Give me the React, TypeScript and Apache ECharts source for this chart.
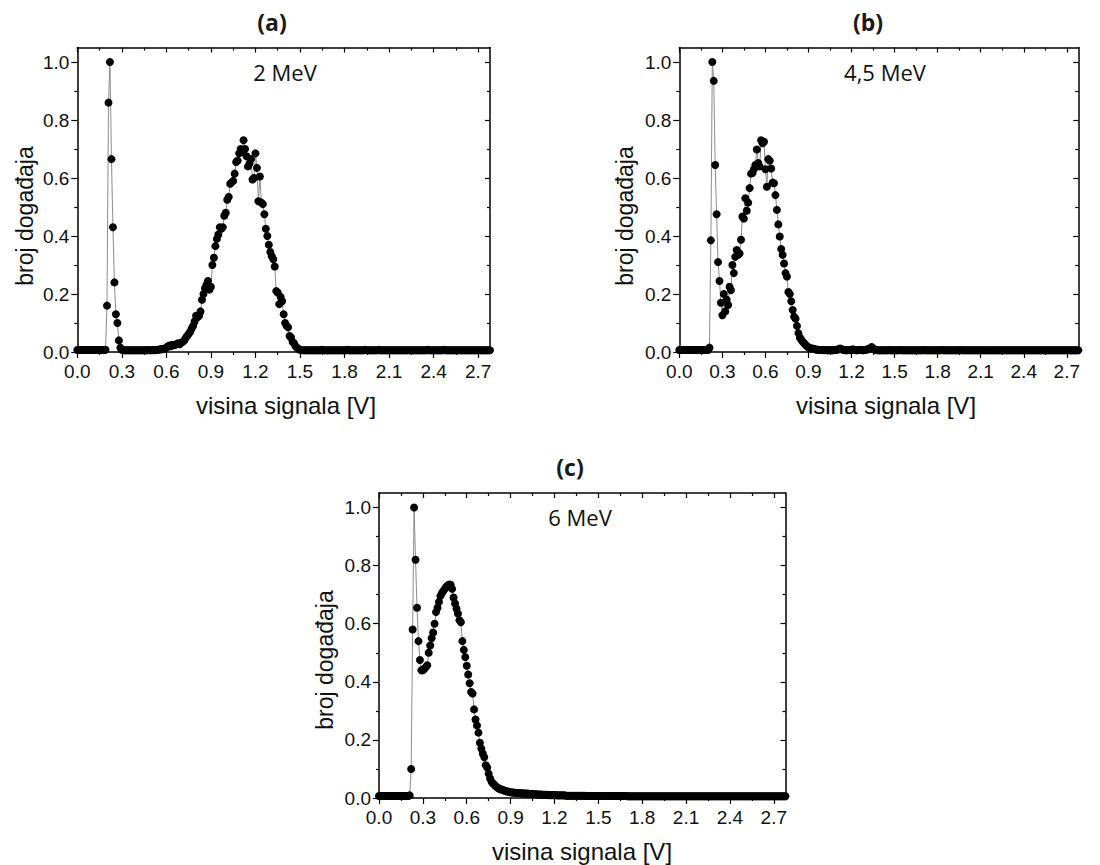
import React, { useEffect, useRef } from "react";
import * as echarts from "echarts";

// ---------- data ----------
const X_STEP = 0.01; // bin width [V]; bin i sits at i * X_STEP
const X_MAX = 2.78;
const Y_MAX = 1.05;
const X_TICKS = [0, 0.3, 0.6, 0.9, 1.2, 1.5, 1.8, 2.1, 2.4, 2.7];
const X_MINOR = [0.15, 0.45, 0.75, 1.05, 1.35, 1.65, 1.95, 2.25, 2.55];
const Y_TICKS = [0, 0.2, 0.4, 0.6, 0.8, 1.0];
const Y_MINOR = [0.1, 0.3, 0.5, 0.7, 0.9];

const PANEL_TITLES = ["(a)", "(b)", "(c)"];
const ENERGY_LABELS = ["2 MeV", "4,5 MeV", "6 MeV"];
const X_TITLE = "visina signala [V]";
const Y_TITLE = "broj događaja";

// normalised counts, 2 MeV
const SIGNAL_A = [
  0.007, 0.007, 0.007, 0.007, 0.007, 0.007, 0.007, 0.007, 0.007, 0.007,
  0.007, 0.007, 0.007, 0.007, 0.007, 0.007, 0.007, 0.007, 0.007, 0.008,
  0.16, 0.86, 1.0, 0.665, 0.43, 0.24, 0.13, 0.10, 0.04, 0.015,
  0.008, 0.006, 0.006, 0.006, 0.006, 0.006, 0.006, 0.006, 0.006, 0.006,
  0.006, 0.006, 0.006, 0.006, 0.006, 0.006, 0.006, 0.006, 0.007, 0.006,
  0.006, 0.007, 0.006, 0.007, 0.008, 0.008, 0.01, 0.009, 0.011, 0.012,
  0.015, 0.02, 0.022, 0.02, 0.025, 0.023, 0.025, 0.028, 0.03, 0.027,
  0.032, 0.035, 0.04, 0.048, 0.055, 0.062, 0.07, 0.08, 0.09, 0.105,
  0.125, 0.12, 0.125, 0.14, 0.18, 0.2, 0.22, 0.232, 0.245, 0.215,
  0.225, 0.3, 0.325, 0.365, 0.39, 0.405, 0.43, 0.425, 0.43, 0.47,
  0.48, 0.525, 0.535, 0.58, 0.585, 0.59, 0.615, 0.655, 0.66, 0.685,
  0.70, 0.69, 0.73, 0.70, 0.675, 0.64, 0.65, 0.665, 0.595, 0.60,
  0.685, 0.635, 0.52, 0.605, 0.515, 0.51, 0.475, 0.425, 0.40, 0.37,
  0.345, 0.33, 0.32, 0.295, 0.21, 0.205, 0.165, 0.19, 0.175, 0.13,
  0.10, 0.09, 0.085, 0.055, 0.05, 0.035, 0.03, 0.02, 0.015, 0.01,
  0.008, 0.007, 0.006, 0.006, 0.006, 0.006, 0.006, 0.006, 0.006, 0.006,
  0.006, 0.006, 0.006, 0.006, 0.006, 0.008, 0.006, 0.006, 0.006, 0.006,
  0.006, 0.006, 0.006, 0.006, 0.006, 0.006, 0.006, 0.006, 0.006, 0.006,
  0.006, 0.006, 0.008, 0.006, 0.006, 0.006, 0.006, 0.006, 0.006, 0.006,
  0.006, 0.006, 0.006, 0.006, 0.008, 0.006, 0.006, 0.006, 0.006, 0.006,
  0.006, 0.006, 0.006, 0.008, 0.006, 0.006, 0.006, 0.006, 0.006, 0.006,
  0.006, 0.006, 0.006, 0.006, 0.006, 0.006, 0.006, 0.006, 0.006, 0.006,
  0.006, 0.006, 0.006, 0.006, 0.006, 0.006, 0.006, 0.006, 0.006, 0.006,
  0.006, 0.006, 0.006, 0.006, 0.006, 0.006, 0.008, 0.006, 0.006, 0.006,
  0.006, 0.006, 0.006, 0.006, 0.006, 0.006, 0.006, 0.008, 0.006, 0.006,
  0.006, 0.006, 0.006, 0.006, 0.006, 0.006, 0.006, 0.006, 0.006, 0.006,
  0.006, 0.006, 0.006, 0.006, 0.006, 0.006, 0.006, 0.006, 0.006, 0.006,
  0.006, 0.006, 0.006, 0.006, 0.006, 0.006, 0.006, 0.006, 0.006, 0.006,
];

// normalised counts, 4,5 MeV
const SIGNAL_B = [
  0.007, 0.007, 0.007, 0.007, 0.007, 0.007, 0.007, 0.007, 0.007, 0.007,
  0.007, 0.007, 0.007, 0.007, 0.007, 0.007, 0.007, 0.007, 0.007, 0.007,
  0.007, 0.015, 0.385, 1.0, 0.935, 0.645, 0.475, 0.31, 0.245, 0.17,
  0.127, 0.2, 0.14, 0.18, 0.162, 0.225, 0.213, 0.3, 0.272, 0.328,
  0.352, 0.335, 0.34, 0.387, 0.467, 0.46, 0.53, 0.487, 0.515, 0.565,
  0.615, 0.617, 0.63, 0.645, 0.698, 0.652, 0.64, 0.73, 0.72, 0.725,
  0.63, 0.57, 0.665, 0.66, 0.633, 0.584, 0.582, 0.541, 0.49, 0.44,
  0.398, 0.355, 0.335, 0.305, 0.272, 0.26, 0.207, 0.2, 0.175, 0.145,
  0.122, 0.115, 0.09, 0.065, 0.05, 0.042, 0.035, 0.03, 0.024, 0.02,
  0.016, 0.014, 0.012, 0.012, 0.01, 0.009, 0.008, 0.008, 0.007, 0.007,
  0.007, 0.006, 0.007, 0.006, 0.006, 0.007, 0.006, 0.006, 0.007, 0.007,
  0.008, 0.01, 0.012, 0.01, 0.008, 0.007, 0.006, 0.006, 0.007, 0.006,
  0.008, 0.009, 0.007, 0.006, 0.006, 0.007, 0.008, 0.007, 0.006, 0.007,
  0.008, 0.009, 0.01, 0.013, 0.017, 0.012, 0.009, 0.007, 0.006, 0.006,
  0.006, 0.006, 0.006, 0.006, 0.006, 0.006, 0.007, 0.006, 0.006, 0.006,
  0.006, 0.006, 0.006, 0.006, 0.007, 0.006, 0.006, 0.006, 0.006, 0.006,
  0.006, 0.006, 0.006, 0.006, 0.006, 0.006, 0.006, 0.006, 0.006, 0.006,
  0.006, 0.007, 0.006, 0.006, 0.006, 0.006, 0.006, 0.006, 0.006, 0.006,
  0.006, 0.006, 0.006, 0.007, 0.006, 0.006, 0.006, 0.006, 0.006, 0.006,
  0.006, 0.006, 0.006, 0.006, 0.006, 0.006, 0.007, 0.006, 0.006, 0.006,
  0.006, 0.006, 0.006, 0.006, 0.006, 0.006, 0.006, 0.006, 0.006, 0.006,
  0.006, 0.006, 0.006, 0.006, 0.006, 0.006, 0.006, 0.006, 0.006, 0.006,
  0.006, 0.006, 0.006, 0.006, 0.006, 0.006, 0.006, 0.006, 0.006, 0.006,
  0.006, 0.006, 0.006, 0.006, 0.006, 0.006, 0.006, 0.006, 0.006, 0.006,
  0.006, 0.006, 0.006, 0.006, 0.006, 0.006, 0.006, 0.006, 0.006, 0.006,
  0.006, 0.006, 0.006, 0.006, 0.006, 0.006, 0.006, 0.006, 0.006, 0.006,
  0.006, 0.006, 0.006, 0.006, 0.006, 0.006, 0.006, 0.006, 0.006, 0.006,
  0.006, 0.006, 0.006, 0.006, 0.006, 0.006, 0.006, 0.006, 0.006, 0.006,
];

// normalised counts, 6 MeV
const SIGNAL_C = [
  0.007, 0.007, 0.007, 0.007, 0.007, 0.007, 0.007, 0.007, 0.007, 0.007,
  0.007, 0.007, 0.007, 0.007, 0.007, 0.007, 0.007, 0.007, 0.007, 0.007,
  0.007, 0.009, 0.1, 0.58, 1.0, 0.82, 0.655, 0.54, 0.475, 0.44,
  0.44, 0.445, 0.45, 0.457, 0.5, 0.525, 0.55, 0.57, 0.6, 0.64,
  0.655, 0.675, 0.695, 0.705, 0.713, 0.72, 0.727, 0.732, 0.735, 0.734,
  0.72, 0.69, 0.67, 0.652, 0.635, 0.612, 0.605, 0.54, 0.51, 0.485,
  0.455, 0.425, 0.395, 0.365, 0.36, 0.305, 0.27, 0.25, 0.225, 0.19,
  0.17, 0.153, 0.14, 0.113, 0.105, 0.084, 0.067, 0.056, 0.05, 0.045,
  0.04, 0.036, 0.033, 0.03, 0.029, 0.027, 0.025, 0.023, 0.022, 0.021,
  0.02, 0.019, 0.019, 0.018, 0.017, 0.017, 0.017, 0.016, 0.016, 0.016,
  0.015, 0.015, 0.015, 0.014, 0.014, 0.014, 0.013, 0.013, 0.013, 0.012,
  0.012, 0.012, 0.011, 0.011, 0.011, 0.011, 0.01, 0.01, 0.01, 0.01,
  0.01, 0.01, 0.009, 0.009, 0.009, 0.009, 0.009, 0.009, 0.008, 0.008,
  0.008, 0.008, 0.008, 0.008, 0.008, 0.008, 0.008, 0.008, 0.008, 0.008,
  0.008, 0.008, 0.007, 0.007, 0.007, 0.007, 0.007, 0.007, 0.007, 0.007,
  0.007, 0.007, 0.007, 0.007, 0.007, 0.007, 0.007, 0.007, 0.007, 0.007,
  0.007, 0.007, 0.007, 0.007, 0.007, 0.007, 0.007, 0.007, 0.007, 0.007,
  0.006, 0.006, 0.006, 0.006, 0.006, 0.006, 0.006, 0.006, 0.006, 0.006,
  0.006, 0.006, 0.006, 0.006, 0.006, 0.006, 0.006, 0.006, 0.006, 0.006,
  0.006, 0.006, 0.006, 0.006, 0.006, 0.006, 0.006, 0.006, 0.006, 0.006,
  0.006, 0.006, 0.006, 0.006, 0.006, 0.006, 0.006, 0.006, 0.006, 0.006,
  0.006, 0.006, 0.006, 0.006, 0.006, 0.006, 0.006, 0.006, 0.006, 0.006,
  0.006, 0.006, 0.006, 0.006, 0.006, 0.006, 0.006, 0.006, 0.006, 0.006,
  0.006, 0.006, 0.006, 0.006, 0.006, 0.006, 0.006, 0.006, 0.006, 0.006,
  0.006, 0.006, 0.006, 0.006, 0.006, 0.006, 0.006, 0.006, 0.006, 0.006,
  0.006, 0.006, 0.006, 0.006, 0.006, 0.006, 0.006, 0.006, 0.006, 0.006,
  0.006, 0.006, 0.006, 0.006, 0.006, 0.006, 0.006, 0.006, 0.006, 0.006,
  0.006, 0.006, 0.006, 0.006, 0.006, 0.006, 0.006, 0.006, 0.006, 0.006,
];

const SIGNALS = [SIGNAL_A, SIGNAL_B, SIGNAL_C];

// ---------- layout (pixels) ----------
const GRIDS = [
  { left: 77.3, top: 47.5, width: 412.7, height: 304.5 },
  { left: 679.3, top: 47.5, width: 399, height: 304.5 },
  { left: 379, top: 493, width: 406.5, height: 305 },
];
const TITLE_POS = [[272, 22], [868, 22], [570, 467]];
const ENERGY_POS = [[285, 72], [885, 72], [580, 517]];
const YTITLE_POS = [[25, 216], [625, 216], [325, 660]];
const XTITLE_POS = [[286, 405], [886, 405], [582, 851]];

const AXIS_FONT = "Liberation Sans";
const NOTE_FONT = "Open Sans";
const BLACK = "#000";

function fmt(v: number) {
  const k = Math.round(v * 100) / 100;
  return k.toFixed(1);
}

function buildOption() {
  const xAxis: any[] = [];
  const yAxis: any[] = [];
  const series: any[] = [];
  const graphic: any[] = [];

  GRIDS.forEach((g, p) => {
    const base = {
      gridIndex: p,
      type: "value",
      splitLine: { show: false },
    };
    const lineOn = { show: true, onZero: false, lineStyle: { color: BLACK, width: 1.5 } };
    const lineOff = { show: false, onZero: false };
    const tick = (inside: boolean, length: number, values: number[]) => ({
      show: true, inside, length, customValues: values, lineStyle: { color: BLACK, width: 1.2 },
    });
    // x axes: bottom major, bottom minor, top major, top minor
    const xb = { ...base, min: 0, max: X_MAX };
    xAxis.push({
      ...xb, position: "bottom", interval: 0.3, axisLine: lineOn,
      axisTick: tick(false, 6, X_TICKS),
      axisLabel: {
        show: true, customValues: X_TICKS, margin: 10, fontSize: 19, color: "#111", fontFamily: AXIS_FONT,
        formatter: (v: number) => (Math.abs(v / 0.3 - Math.round(v / 0.3)) < 1e-6 ? fmt(v) : ""),
      },
    });
    xAxis.push({ ...xb, position: "bottom", interval: 0.15, axisLine: lineOff, axisTick: tick(false, 3, X_MINOR), axisLabel: { show: false } });
    xAxis.push({ ...xb, position: "top", interval: 0.3, axisLine: lineOn, axisTick: tick(true, 5, X_TICKS), axisLabel: { show: false } });
    xAxis.push({ ...xb, position: "top", interval: 0.15, axisLine: lineOff, axisTick: tick(true, 3, X_MINOR), axisLabel: { show: false } });
    // y axes: left major, left minor, right major, right minor
    const yb = { ...base, min: 0, max: Y_MAX };
    yAxis.push({
      ...yb, position: "left", interval: 0.2, axisLine: lineOn,
      axisTick: tick(false, 6, Y_TICKS),
      axisLabel: {
        show: true, customValues: Y_TICKS, margin: 8, fontSize: 19, color: "#111", fontFamily: AXIS_FONT,
        formatter: (v: number) => (Math.abs(v / 0.2 - Math.round(v / 0.2)) < 1e-6 ? fmt(v) : ""),
      },
    });
    yAxis.push({ ...yb, position: "left", interval: 0.1, axisLine: lineOff, axisTick: tick(false, 3, Y_MINOR), axisLabel: { show: false } });
    yAxis.push({ ...yb, position: "right", interval: 0.2, axisLine: lineOn, axisTick: tick(true, 5, Y_TICKS), axisLabel: { show: false } });
    yAxis.push({ ...yb, position: "right", interval: 0.1, axisLine: lineOff, axisTick: tick(true, 3, Y_MINOR), axisLabel: { show: false } });

    series.push({
      type: "line",
      name: ENERGY_LABELS[p],
      xAxisIndex: p * 4,
      yAxisIndex: p * 4,
      data: SIGNALS[p].map((v, i) => [Math.round(i * X_STEP * 1000) / 1000, v]),
      symbol: "circle",
      symbolSize: 8,
      showSymbol: true,
      showAllSymbol: true,
      clip: true,
      silent: true,
      itemStyle: { color: BLACK },
      lineStyle: { color: "#8c8c8c", width: 1 },
    });

    graphic.push({
      type: "text", x: TITLE_POS[p][0], y: TITLE_POS[p][1], silent: true,
      style: { text: PANEL_TITLES[p], fontSize: 23, fontWeight: "bold", fontFamily: NOTE_FONT, fill: "#1a1a1a", textAlign: "center", textVerticalAlign: "middle" },
    });
    graphic.push({
      type: "text", x: ENERGY_POS[p][0], y: ENERGY_POS[p][1], silent: true,
      style: { text: ENERGY_LABELS[p], fontSize: 22, fontFamily: NOTE_FONT, fill: "#111", textAlign: "center", textVerticalAlign: "middle" },
    });
    graphic.push({
      type: "text", x: YTITLE_POS[p][0], y: YTITLE_POS[p][1], rotation: Math.PI / 2, silent: true,
      style: { text: Y_TITLE, fontSize: 23, fontFamily: AXIS_FONT, fill: "#111", textAlign: "center", textVerticalAlign: "middle" },
    });
    graphic.push({
      type: "text", x: XTITLE_POS[p][0], y: XTITLE_POS[p][1], silent: true,
      style: { text: X_TITLE, fontSize: 24, fontFamily: AXIS_FONT, fill: "#111", textAlign: "center", textVerticalAlign: "middle" },
    });
  });

  return {
    animation: false,
    backgroundColor: "#fff",
    grid: GRIDS.map((g) => ({ ...g, containLabel: false })),
    xAxis,
    yAxis,
    series,
    graphic,
  };
}

export default function App() {
  const ref = useRef<HTMLDivElement>(null);
  useEffect(() => {
    if (!ref.current) return;
    const chart = echarts.init(ref.current, undefined, { renderer: "svg" });
    chart.setOption(buildOption() as any);
    return () => chart.dispose();
  }, []);
  return (
    <div
      ref={ref}
      style={{ position: "absolute", left: 0, top: 0, width: 1100, height: 865, background: "#fff" }}
    />
  );
}
